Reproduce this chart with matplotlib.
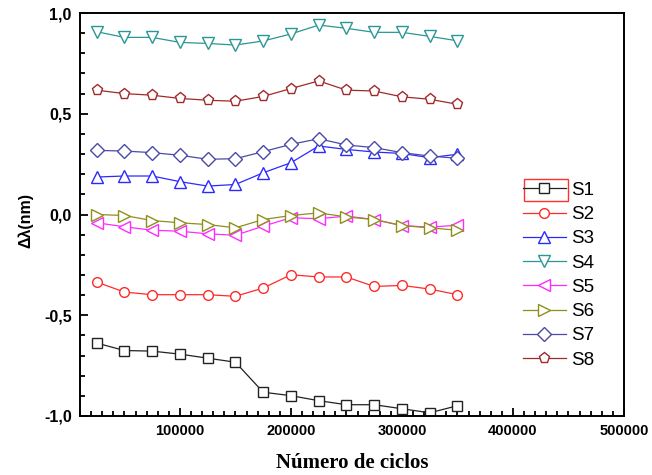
import matplotlib
matplotlib.use("Agg")
import matplotlib.pyplot as plt
from matplotlib.ticker import MultipleLocator, FixedLocator, FixedFormatter
from matplotlib.patches import Rectangle

cycles = [25000, 50000, 75000, 100000, 125000, 150000, 175000, 200000,
          225000, 250000, 275000, 300000, 325000, 350000]

S1 = [-0.638, -0.675, -0.678, -0.693, -0.713, -0.733, -0.882, -0.899, -0.924, -0.944, -0.944, -0.964, -0.984, -0.949]
S2 = [-0.335, -0.385, -0.398, -0.398, -0.398, -0.406, -0.365, -0.299, -0.310, -0.310, -0.357, -0.352, -0.370, -0.398]
S3 = [0.186, 0.191, 0.191, 0.163, 0.141, 0.149, 0.207, 0.257, 0.340, 0.323, 0.310, 0.303, 0.282, 0.299]
S4 = [0.907, 0.879, 0.879, 0.854, 0.849, 0.841, 0.861, 0.896, 0.940, 0.924, 0.904, 0.904, 0.884, 0.862]
S5 = [-0.041, -0.061, -0.078, -0.083, -0.096, -0.103, -0.058, -0.016, -0.021, -0.008, -0.025, -0.055, -0.063, -0.053]
S6 = [0.000, -0.005, -0.030, -0.041, -0.050, -0.066, -0.025, -0.005, 0.008, -0.012, -0.025, -0.055, -0.066, -0.078]
S7 = [0.318, 0.315, 0.307, 0.294, 0.274, 0.277, 0.312, 0.348, 0.376, 0.345, 0.332, 0.307, 0.290, 0.279]
S8 = [0.617, 0.600, 0.592, 0.576, 0.567, 0.562, 0.586, 0.625, 0.663, 0.617, 0.613, 0.584, 0.572, 0.547]

series_names = ["S1", "S2", "S3", "S4", "S5", "S6", "S7", "S8"]
series_values = [S1, S2, S3, S4, S5, S6, S7, S8]
colors = ["#222222", "#ff2a2a", "#2a2aff", "#2a9696", "#ff2aff", "#8f8f1a", "#4a4aa8", "#a02a2a"]
markers = ["s", "o", "^", "v", "<", ">", "D", "p"]
msizes = [7, 7, 9, 9, 9, 9, 7, 8]

xticks = [100000, 200000, 300000, 400000, 500000]
xticklabels = ["100000", "200000", "300000", "400000", "500000"]
yticks = [-1.0, -0.5, 0.0, 0.5, 1.0]
yticklabels = ["-1,0", "-0,5", "0,0", "0,5", "1,0"]

plt.rcParams["font.family"] = ["Liberation Sans", "DejaVu Sans"]

fig = plt.figure(figsize=(6.52, 4.75), dpi=100)
ax = fig.add_axes([80/652, 1-416/475, 544/652, 403/475])

for name, vals, c, m, ms in zip(series_names, series_values, colors, markers, msizes):
    ax.plot(cycles, vals, color=c, marker=m, ms=ms, mfc="white", mec=c,
            mew=1.0, lw=0.9, label=name)

ax.set_xlim(10000, 500000)
ax.set_ylim(-1.0, 1.0)
ax.xaxis.set_major_locator(FixedLocator(xticks))
ax.xaxis.set_major_formatter(FixedFormatter(xticklabels))
ax.xaxis.set_minor_locator(MultipleLocator(10000))
ax.yaxis.set_major_locator(FixedLocator(yticks))
ax.yaxis.set_major_formatter(FixedFormatter(yticklabels))
ax.yaxis.set_minor_locator(MultipleLocator(0.1))

ax.tick_params(which="both", direction="in", top=False, right=False, width=1.3)
ax.tick_params(which="major", length=6, pad=5)
ax.tick_params(axis="x", which="major", labelsize=10.5, pad=6)
ax.tick_params(axis="y", which="major", labelsize=11.5, pad=6)
ax.tick_params(which="minor", length=3.5)
for lab in ax.get_xticklabels() + ax.get_yticklabels():
    lab.set_fontweight("bold")
for sp in ax.spines.values():
    sp.set_linewidth(1.4)

ax.set_ylabel("Δλ(nm)", fontsize=11.5, fontweight="bold")
ax.yaxis.set_label_coords(-(80 - 33) / 544, 0.5 + (215 - 221) / 403)
ax.set_xlabel("Número de ciclos", fontsize=15, fontweight="bold",
              family=["Liberation Serif", "DejaVu Serif"])
ax.xaxis.set_label_coords((352 - 80) / 544, -(453 - 416) / 403)

leg = ax.legend(loc="upper left", bbox_to_anchor=(0.80, 0.60), frameon=False,
                fontsize=13.5, handlelength=2.3, handletextpad=0.3,
                labelspacing=0.38, borderaxespad=0)

ax.add_patch(Rectangle((0.816, 0.533), 0.081, 0.055, transform=ax.transAxes,
                       fill=False, edgecolor="#ff3030", lw=1.0, clip_on=False))

fig.savefig("out.png", dpi=100)
